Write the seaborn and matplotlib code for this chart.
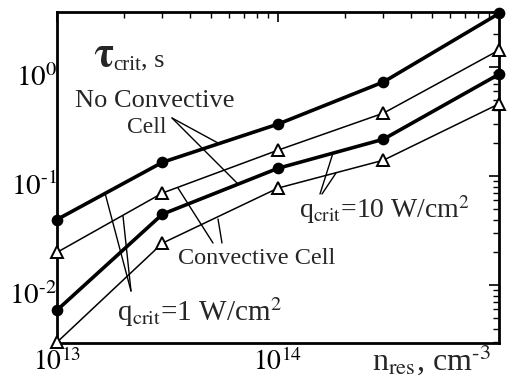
import numpy as np
import pandas as pd
import matplotlib
matplotlib.use("Agg")
import matplotlib.pyplot as plt
import matplotlib.transforms as mtrans
import seaborn as sns
from matplotlib.ticker import FixedLocator, LogLocator, NullFormatter, FixedFormatter

# ---- data ----
n_res = [1e13, 3e13, 1e14, 3e14, 1e15]
no_cc_q1 = [0.040, 0.134, 0.30, 0.73, 3.1]        # thick, circles
cc_q1 = [0.020, 0.070, 0.173, 0.378, 1.43]        # thin, triangles
no_cc_q10 = [0.0059, 0.0448, 0.118, 0.218, 0.86]  # thick, circles
cc_q10 = [0.0030, 0.0243, 0.0777, 0.14, 0.46]     # thin, triangles

series_names = ["no_cc_q1", "cc_q1", "no_cc_q10", "cc_q10"]
series_vals = [no_cc_q1, cc_q1, no_cc_q10, cc_q10]

xticks = [1e13, 1e14]
xticklabels = [r"$10^{13}$", r"$10^{14}$"]
yticks = [1e-2, 1e-1, 1e0]
yticklabels = [r"$10^{\text{-}2}$", r"$10^{\text{-}1}$", r"$10^{0}$"]

rows = []
for name, vals in zip(series_names, series_vals):
    for x, y in zip(n_res, vals):
        rows.append({"series": name, "n": x, "tau": y})
df = pd.DataFrame(rows)

sns.set_theme(style="white")
plt.rcParams["font.family"] = ["Liberation Serif", "DejaVu Serif"]
plt.rcParams["mathtext.fontset"] = "stix"

W, H = 510, 380
fig = plt.figure(figsize=(5.1, 3.8), dpi=100)
ax = fig.add_axes([57/W, 1-343/H, (499-57)/W, (343-12)/H])

styles = {
    "no_cc_q1": dict(lw=2.6, marker="o", ms=7, mfc="black"),
    "cc_q1": dict(lw=1.1, marker="^", ms=8.5, mfc="white"),
    "no_cc_q10": dict(lw=2.6, marker="o", ms=7, mfc="black"),
    "cc_q10": dict(lw=1.1, marker="^", ms=8.5, mfc="white"),
}
for name in series_names:
    st = styles[name]
    sub = df[df["series"] == name]
    sns.lineplot(data=sub, x="n", y="tau", ax=ax, color="black",
                 linewidth=st["lw"], marker=st["marker"], markersize=st["ms"],
                 markerfacecolor=st["mfc"], markeredgecolor="black",
                 markeredgewidth=1.4, clip_on=False, zorder=3)

ax.set_xscale("log")
ax.set_yscale("log")
ax.set_xlim(1e13, 1e15)
ax.set_ylim(10**-2.53, 10**0.505)

ax.xaxis.set_major_locator(FixedLocator(xticks))
ax.xaxis.set_major_formatter(FixedFormatter(xticklabels))
ax.yaxis.set_major_locator(FixedLocator(yticks))
ax.yaxis.set_major_formatter(FixedFormatter(yticklabels))
ax.xaxis.set_minor_locator(LogLocator(base=10, subs=np.arange(2, 10)))
ax.yaxis.set_minor_locator(LogLocator(base=10, subs=np.arange(2, 10)))
ax.xaxis.set_minor_formatter(NullFormatter())
ax.yaxis.set_minor_formatter(NullFormatter())

ax.tick_params(which="both", direction="in", top=True, right=True, colors="black")
ax.tick_params(which="major", length=7, width=1.2)
ax.tick_params(which="minor", length=4, width=1.0)
ax.tick_params(axis="x", which="major", labelsize=20, pad=4)
ax.tick_params(axis="y", which="major", labelsize=21, pad=0)
for s in ax.spines.values():
    s.set_color("black")
    s.set_linewidth(2)
ax.set_xlabel("")
ax.set_ylabel("")

fig.canvas.draw()
off = mtrans.ScaledTranslation(0, -8/100, fig.dpi_scale_trans)
for lab in ax.get_yticklabels():
    lab.set_transform(lab.get_transform() + off)

def fx(x):
    return x / W

def fy(y):
    return 1 - y / H

# y-axis label (inside plot): big bold tau + subscript + ", s"
fig.text(fx(93), fy(66), r"$\mathbf{\tau}$", fontsize=30, ha="left", va="baseline")
fig.text(fx(113), fy(70), "crit", fontsize=15, ha="left", va="baseline")
fig.text(fx(141), fy(66), ", s", fontsize=19, ha="left", va="baseline")

# x-axis label
fig.text(fx(372), fy(370), r"n$_{\rm res}$, cm$^{\text{-}3}$", fontsize=23,
         ha="left", va="baseline")

# annotations
fig.text(fx(155), fy(101), "No Convective", fontsize=19, ha="center", va="center")
fig.text(fx(147), fy(128), "Cell", fontsize=17, ha="center", va="center")
fig.text(fx(257), fy(258), "Convective Cell", fontsize=17.5, ha="center", va="center")
fig.text(fx(200), fy(312), r"q$_{\rm crit}$=1 W/cm$^2$", fontsize=21, ha="center", va="center")
fig.text(fx(385), fy(210), r"q$_{\rm crit}$=10 W/cm$^2$", fontsize=20, ha="center", va="center")

# pointer lines (pixel coords from top-left)
lines = [
    [(172, 118), (218, 143)],
    [(172, 118), (237, 183)],
    [(213, 243), (178, 188)],
    [(222, 243), (218, 219)],
    [(131, 291), (105, 193)],
    [(131, 291), (123, 216)],
    [(320, 194), (333, 153)],
    [(322, 194), (336, 173)],
]
for (x0, y0), (x1, y1) in lines:
    fig.add_artist(plt.Line2D([fx(x0), fx(x1)], [fy(y0), fy(y1)],
                              transform=fig.transFigure, color="black", lw=1.0))

fig.savefig("out.png", dpi=100, facecolor="white")
